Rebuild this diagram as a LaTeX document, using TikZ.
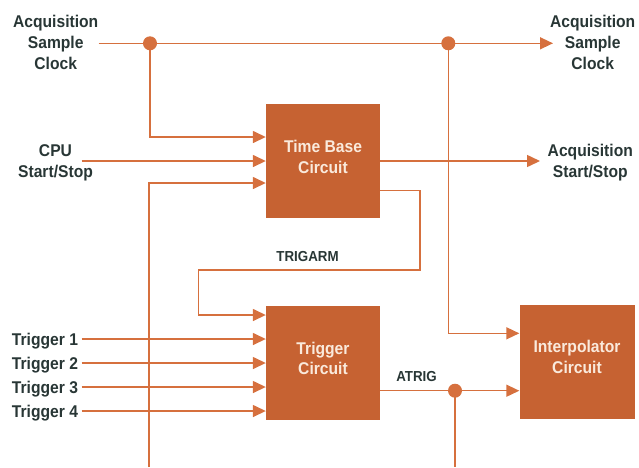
\documentclass[tikz,border=0pt]{standalone}
\usepackage{fontspec}
\setmainfont{Liberation Sans}[FakeStretch=0.92]
\usetikzlibrary{arrows.meta}
\definecolor{boxfill}{RGB}{198,98,50}
\definecolor{wirecol}{RGB}{214,112,62}
\definecolor{ink}{RGB}{40,54,53}
\definecolor{boxtext}{RGB}{250,234,220}
\begin{document}
\begin{tikzpicture}[x=1pt,y=-1pt,
  block/.style={fill=boxfill, minimum width=114pt, minimum height=114pt, inner sep=0pt},
  blocktext/.style={anchor=north, inner sep=0pt, text=boxtext, align=center,
    font=\bfseries\fontsize{17}{20.5}\selectfont},
  lbl/.style={inner sep=0pt, text=ink, align=center,
    font=\bfseries\fontsize{17}{21}\selectfont},
  small/.style={inner sep=0pt, text=ink, font=\bfseries\fontsize{14.5}{17}\selectfont},
  wire/.style={draw=wirecol, line width=1.5pt},
  sig/.style={wire, -{Triangle[length=13pt,width=12pt]}},
  junction/.style={circle, fill=wirecol, minimum size=14pt, inner sep=0pt}]
\useasboundingbox (0,0) rectangle (639,467);

% circuit blocks
\node[block] (tb) at (323,161) {};
\node[block] (tg) at (323,363) {};
\node[block, minimum width=115pt] (ip) at (577,362) {};
\node[blocktext] (tbt) at (323,140) {Time Base\\Circuit};
\node[blocktext] (tgt) at (323,341.5) {Trigger\\Circuit};
\node[blocktext] (ipt) at (577,340) {Interpolator\\Circuit};

% outer signal labels
\node[lbl, anchor=north] (clkl) at (55.7,15) {Acquisition\\Sample\\Clock};
\node[lbl, anchor=north] (clkr) at (592.7,15) {Acquisition\\Sample\\Clock};
\node[lbl, anchor=north] (cpul) at (55.5,144) {CPU\\Start/Stop};
\node[lbl, anchor=north] (ssr) at (590.3,144) {Acquisition\\Start/Stop};
\node[lbl, anchor=base west] (t1) at (11.7,345) {Trigger 1};
\node[lbl, anchor=base west] (t2) at (11.7,369.3) {Trigger 2};
\node[lbl, anchor=base west] (t3) at (11.7,393.3) {Trigger 3};
\node[lbl, anchor=base west] (t4) at (11.7,417.3) {Trigger 4};
\node[small, anchor=base] (arm) at (307.5,261.5) {TRIGARM};
\node[small, anchor=base] (atr) at (416.5,381.5) {ATRIG};

% junctions and free wire ends
\node[junction] (j1) at (150,43.3) {};
\node[junction] (j2) at (448.3,43.3) {};
\node[junction] (j3) at (455,390.7) {};
\coordinate (clkin) at (98.7,43.3);
\coordinate (clkout) at (553,43.3);
\coordinate (cpuin) at (81.7,161);
\coordinate (ssout) at (540,161);
\coordinate (bot1) at (149,467);
\coordinate (bot2) at (455,467);
\coordinate (in1) at (81.7,339);
\coordinate (in2) at (81.7,363);
\coordinate (in3) at (81.7,387);
\coordinate (in4) at (81.7,411);

% sample clock distribution
\draw[sig] (clkin) -- (clkout);
\draw[sig] (j1.center) |- ([yshift=24pt]tb.west);
\draw[sig] (j2.center) |- ([yshift=28.7pt]ip.west);

% time base inputs and outputs
\draw[sig] (cpuin) -- (tb.west);
\draw[sig] (bot1) |- ([yshift=-22pt]tb.west);
\draw[sig] (tb.east) -- (ssout);
\draw[sig] ([yshift=-29.5pt]tb.east) -| (420,270) -- (198.3,270) |- ([yshift=48pt]tg.west);

% trigger inputs
\draw[sig] (in1) -- (in1 -| tg.west);
\draw[sig] (in2) -- (in2 -| tg.west);
\draw[sig] (in3) -- (in3 -| tg.west);
\draw[sig] (in4) -- (in4 -| tg.west);

% ATRIG to interpolator
\draw[wire] (j3 -| tg.east) -- (j3.center);
\draw[sig] (j3.center) -- (j3 -| ip.west);
\draw[wire] (j3.center) -- (bot2);
\end{tikzpicture}
\end{document}
